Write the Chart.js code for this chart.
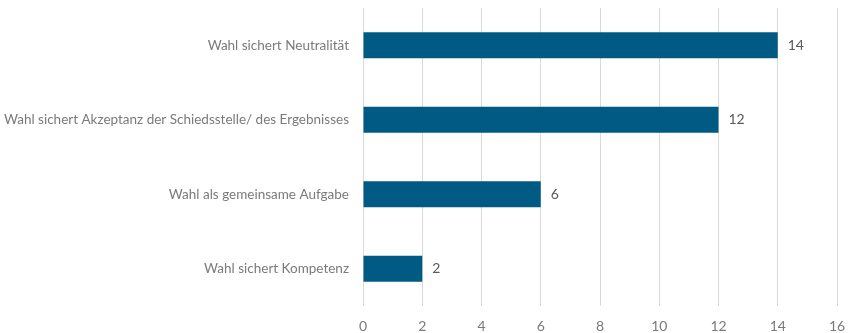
<!DOCTYPE html>
<html>
<head>
<meta charset="utf-8">
<script src="https://cdn.jsdelivr.net/npm/chart.js@4"></script>
<style>
  html, body { margin: 0; padding: 0; background: #fff; }
  #wrap { width: 849px; height: 333px; }
</style>
</head>
<body>
<div id="wrap"><canvas id="chart"></canvas></div>
<script>
const categories = [
    'Wahl sichert Neutralität',
    'Wahl sichert Akzeptanz der Schiedsstelle/ des Ergebnisses',
    'Wahl als gemeinsame Aufgabe',
    'Wahl sichert Kompetenz'
];
const counts = [14, 12, 6, 2];
const xTicks = [0, 2, 4, 6, 8, 10, 12, 14, 16];

const FONT = "Lato, sans-serif";

// draws the value just right of each bar
const valueLabels = {
    id: 'valueLabels',
    afterDatasetsDraw(chart) {
        const ctx = chart.ctx;
        const meta = chart.getDatasetMeta(0);
        ctx.save();
        ctx.font = '14px ' + FONT;
        ctx.fillStyle = '#595959';
        ctx.textBaseline = 'middle';
        meta.data.forEach((bar, i) => {
            ctx.fillText(String(counts[i]), bar.x + 10, bar.y);
        });
        ctx.restore();
    }
};

new Chart(document.getElementById('chart').getContext('2d'), {
    type: 'bar',
    data: {
        labels: categories,
        datasets: [{
            data: counts,
            backgroundColor: '#005a84',
            borderWidth: 0,
            barPercentage: 0.7,
            categoryPercentage: 0.5,
        }],
    },
    options: {
        indexAxis: 'y',
        responsive: true,
        maintainAspectRatio: false,
        animation: false,
        layout: { padding: { top: 8, right: 12, left: 0, bottom: 0 } },
        plugins: {
            legend: { display: false },
            tooltip: { enabled: false },
        },
        scales: {
            x: {
                min: 0,
                max: 16,
                afterBuildTicks(axis) {
                    axis.ticks = xTicks.map(v => ({ value: v }));
                },
                afterFit(axis) {
                    axis.height = 27;
                    axis.paddingLeft = 0;
                    axis.paddingRight = 0;
                },
                grid: { color: '#d9d9d9', lineWidth: 1, drawTicks: false },
                border: { display: false },
                ticks: {
                    color: '#7a7a7a',
                    font: { family: FONT, size: 14 },
                    padding: 12,
                },
            },
            y: {
                afterFit(axis) {
                    axis.width = 363;
                    axis.paddingTop = 0;
                    axis.paddingBottom = 0;
                },
                grid: { display: false, drawTicks: false },
                border: { display: false },
                ticks: {
                    color: '#7a7a7a',
                    font: { family: FONT, size: 13.5 },
                    padding: 14,
                },
            },
        },
    },
    plugins: [valueLabels],
});
</script>
</body>
</html>
